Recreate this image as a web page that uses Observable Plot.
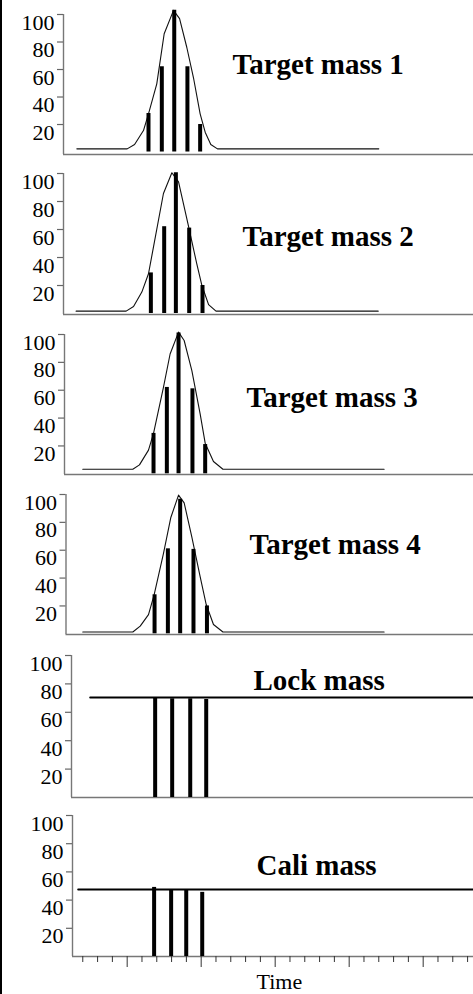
<!DOCTYPE html>
<html>
<head>
<meta charset="utf-8">
<script src="https://cdn.jsdelivr.net/npm/d3@7"></script>
<script src="https://cdn.jsdelivr.net/npm/@observablehq/plot@0.6"></script>
<style>
  html, body { margin: 0; padding: 0; background: #fff; }
  #figure { position: relative; width: 473px; height: 994px; overflow: hidden; background: #fff; }
  #figure .panel { position: absolute; left: 0; }
  #figure .border { position: absolute; left: 0; top: 0; width: 2px; height: 994px; background: #000; }
</style>
</head>
<body>
<div id="figure"><div class="border"></div></div>
<script>
// ---- data -------------------------------------------------------------
const titles = ["Target mass 1", "Target mass 2", "Target mass 3", "Target mass 4", "Lock mass", "Cali mass"];
const intensityTicks = [20, 40, 60, 80, 100];
const timeTicks = d3.range(2, 29);
const axisLabel = "Time";

// chromatographic peak profiles: [time, intensity]
const profile1 = [[1.6,2.3],[5.0,2.3],[5.5,5.5],[6.1,15.6],[6.44,27.8],[7.0,49.6],[7.5,86],[8.13,103],[8.54,97],[9.03,76],[9.48,54],[9.93,27.8],[10.27,14.4],[10.65,5.5],[11.1,2.3],[22.0,2.3]];
const profile2 = [[1.55,1.7],[4.93,1.7],[5.43,5],[5.99,15.3],[6.44,28.4],[7.45,85.7],[8.02,100.5],[8.47,94],[9.15,62],[9.7,35.6],[10.05,20],[10.5,6.4],[11.0,1.7],[21.96,1.7]];
const profile3 = [[2.0,3.3],[5.38,3.3],[5.83,6.4],[6.44,17],[6.78,29],[7.45,62],[7.9,86],[8.47,101.7],[8.85,95.7],[9.37,74],[9.93,43],[10.27,22],[10.83,8.8],[11.47,3.3],[22.36,3.3]];
const profile4 = [[2.0,1.3],[5.38,1.3],[5.88,5.5],[6.44,13.8],[6.82,28],[7.45,57.6],[7.95,83.5],[8.47,99.6],[8.85,94],[9.37,69.4],[9.93,41],[10.34,21],[10.83,6.7],[11.47,1.3],[22.36,1.3]];

// acquired scans: [time, intensity]
const scans1 = [[6.44,28],[7.34,62],[8.18,103],[9.07,62],[9.93,20]];
const scans2 = [[6.6,29],[7.5,62],[8.29,100.5],[9.19,61],[10.09,20]];
const scans3 = [[6.78,29],[7.68,62],[8.47,101],[9.41,61],[10.27,21]];
const scans4 = [[6.85,28],[7.75,61],[8.58,96.6],[9.48,60.6],[10.39,20]];
const lockScans = [[6.89,70],[8.04,69.5],[9.26,69.5],[10.34,69]];
const caliScans = [[6.82,49],[7.97,47.5],[8.99,47.5],[10.07,45.5]];

// constant reference-mass signals: [time, intensity]
const lockLevel = [[2.5,70.5],[28.4,70.5]];
const caliLevel = [[1.69,47.5],[28.4,47.5]];

// ---- layout -----------------------------------------------------------
const W = 473;
const PX_PER_T = 14.8;   // shared time scale
const T_END = 28.4;
const SERIF = "'Liberation Serif', 'Times New Roman', Times, serif";
const MT = 14;

const panels = [
  {top: 14,  base: 154, axisX: 63,   yMin: -1.8, titleX: 232, titleY: 73,  curve: profile1, scans: scans1},
  {top: 173, base: 314, axisX: 63,   yMin: -0.7, titleX: 242, titleY: 245, curve: profile2, scans: scans2},
  {top: 334, base: 474, axisX: 64,   yMin: -0.5, titleX: 246, titleY: 406, curve: profile3, scans: scans3},
  {top: 494, base: 634, axisX: 65.5, yMin: -0.5, titleX: 249, titleY: 553, curve: profile4, scans: scans4},
  {top: 655, base: 797, axisX: 71,   yMin: 0,    titleX: 253, titleY: 689, level: lockLevel, scans: lockScans},
  {top: 815, base: 956, axisX: 72,   yMin: 0,    titleX: 256, titleY: 874, level: caliLevel, scans: caliScans, timeAxis: true}
];

const fig = document.getElementById("figure");

panels.forEach((p, i) => {
  const mb = p.timeAxis ? 994 - p.base : 4;
  const height = (p.base - p.top) + MT + mb;
  const xStart = T_END - (W - p.axisX) / PX_PER_T;

  const marks = [
    // frame: baseline and intensity axis
    Plot.ruleY([p.yMin], {stroke: "#777", strokeWidth: 1.6}),
    Plot.ruleX([xStart], {y1: p.yMin, y2: 100, stroke: "#777", strokeWidth: 1.4}),
    Plot.axisY(intensityTicks, {tickSize: 6, tickFormat: () => "", stroke: "#666", strokeWidth: 1.2}),
    // tick labels hang just below their tick
    Plot.text(intensityTicks, {
      y: d => d, frameAnchor: "left", dx: -9, dy: 8,
      text: d => String(d), textAnchor: "end", lineAnchor: "middle",
      fontSize: 22, fill: "#000"
    })
  ];

  if (p.curve) {
    marks.push(Plot.line(p.curve, {x: d => d[0], y: d => d[1], stroke: "#111", strokeWidth: 1.1}));
  }
  if (p.level) {
    marks.push(Plot.line(p.level, {x: d => d[0], y: d => d[1], stroke: "#000", strokeWidth: 2}));
  }
  marks.push(Plot.ruleX(p.scans, {x: d => d[0], y1: 0, y2: d => d[1], stroke: "#000", strokeWidth: 4}));

  marks.push(Plot.text([titles[i]], {
    frameAnchor: "top-left", dx: p.titleX - p.axisX, dy: p.titleY - p.top,
    textAnchor: "start", lineAnchor: "bottom",
    fontSize: 29, fontWeight: "bold", fill: "#000"
  }));

  if (p.timeAxis) {
    marks.push(
      Plot.axisX(timeTicks.filter(t => t % 5 !== 0), {tickSize: 6, tickFormat: () => "", stroke: "#333"}),
      Plot.axisX(timeTicks.filter(t => t % 5 === 0), {tickSize: 11, tickFormat: () => "", stroke: "#333"}),
      Plot.text([axisLabel], {
        frameAnchor: "bottom-left", dx: 256 - p.axisX, dy: 32,
        textAnchor: "start", lineAnchor: "bottom", fontSize: 22, fill: "#000"
      })
    );
  }

  const svg = Plot.plot({
    width: W,
    height,
    marginLeft: p.axisX,
    marginRight: 0,
    marginTop: MT,
    marginBottom: mb,
    x: {domain: [xStart, T_END], axis: null},
    y: {domain: [p.yMin, 100], axis: null},
    style: {fontFamily: SERIF, fontSize: "21px", background: "transparent", overflow: "visible", color: "#000"},
    marks
  });

  const wrap = document.createElement("div");
  wrap.className = "panel";
  wrap.style.top = (p.top - MT) + "px";
  wrap.appendChild(svg);
  fig.appendChild(wrap);
});
</script>
</body>
</html>
